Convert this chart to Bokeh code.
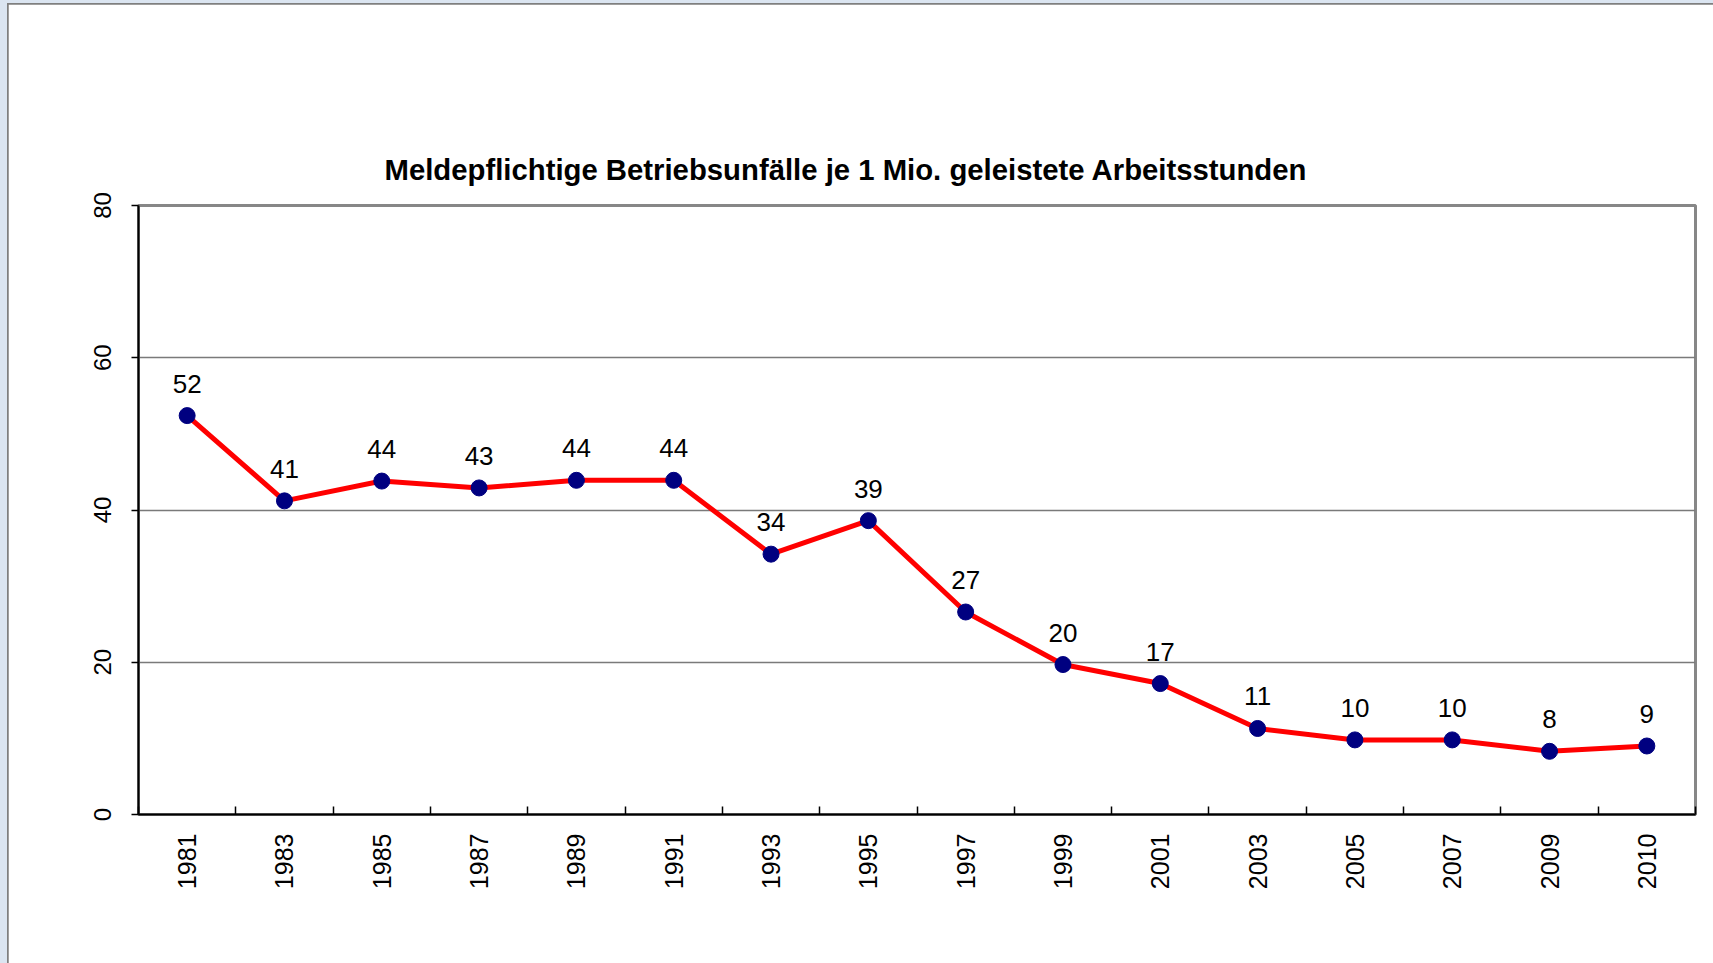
import numpy as np
from bokeh.plotting import figure
from bokeh.models import FixedTicker, Range1d, ColumnDataSource
from bokeh.core.properties import value
from bokeh.embed import file_html
from bokeh.resources import INLINE

# ---- data ----
years = ["1981", "1983", "1985", "1987", "1989", "1991", "1993", "1995",
         "1997", "1999", "2001", "2003", "2005", "2007", "2009", "2010"]
rates = [52.4, 41.2, 43.8, 42.9, 43.9, 43.9, 34.2, 38.6,
         26.6, 19.7, 17.2, 11.3, 9.8, 9.8, 8.3, 9.0]
y_ticks = [0, 20, 40, 60, 80]
title_text = "Meldepflichtige Betriebsunfälle je 1 Mio. geleistete Arbeitsstunden"

FONT = "Liberation Sans"

idx = list(range(len(years)))
labels = [f"{v:.0f}" for v in rates]
src = ColumnDataSource(dict(x=idx, y=rates, label=labels))

p = figure(width=1713, height=963, output_backend="svg", toolbar_location=None,
           x_range=Range1d(-0.5, len(years) - 0.5), y_range=Range1d(0, 80),
           min_border_left=130, min_border_right=26,
           min_border_top=201, min_border_bottom=153,
           background_fill_color="white", border_fill_color="white")
p.styles = {"border-left": "7px solid #dbe5f1", "border-top": "3px solid #dbe5f1",
            "padding-left": "1px", "padding-top": "1px", "background-color": "#7f7f7f"}

# title
p.title.text = title_text
p.title.text_font = FONT
p.title.text_font_size = "29.3px"
p.title.text_font_style = "bold"
p.title.text_color = "black"
p.title.align = "left"
p.title.offset = 246
p.title.standoff = 39

# frame outline (top/right grey)
p.outline_line_color = "#878787"
p.outline_line_width = 3

# grid
p.xgrid.visible = False
p.ygrid.ticker = FixedTicker(ticks=y_ticks)
p.ygrid.grid_line_color = "#7a7a7a"
p.ygrid.grid_line_width = 1.5

# x axis
xa = p.xaxis[0]
xa.ticker = FixedTicker(ticks=idx, minor_ticks=[i - 0.5 for i in range(len(years) + 1)])
xa.major_label_overrides = {i: y for i, y in zip(idx, years)}
xa.major_tick_line_color = None
xa.minor_tick_in = 8
xa.minor_tick_out = 0
xa.minor_tick_line_color = "black"
xa.minor_tick_line_width = 1.5
xa.axis_line_color = "black"
xa.axis_line_width = 2
xa.major_label_orientation = np.pi / 2
xa.major_label_text_font = FONT
xa.major_label_text_font_size = "25px"
xa.major_label_text_color = "black"
xa.major_label_standoff = 13

# y axis
ya = p.yaxis[0]
ya.ticker = FixedTicker(ticks=y_ticks, minor_ticks=[])
ya.major_tick_out = 7
ya.major_tick_in = 0
ya.major_tick_line_color = "black"
ya.major_tick_line_width = 1.5
ya.axis_line_color = "black"
ya.axis_line_width = 2
ya.major_label_orientation = "parallel"
ya.major_label_text_font = FONT
ya.major_label_text_font_size = "24px"
ya.major_label_text_color = "black"
ya.major_label_standoff = 21

# series
p.line("x", "y", source=src, line_color="#ff0000", line_width=5)
p.scatter("x", "y", source=src, size=16, fill_color="#000080", line_color="#000080")
p.text("x", "y", text="label", source=src, text_align="center", text_baseline="alphabetic",
       y_offset=-32, text_font=value(FONT), text_font_size="26px", text_color="black")

open("out.html", "w").write(file_html(p, INLINE))
